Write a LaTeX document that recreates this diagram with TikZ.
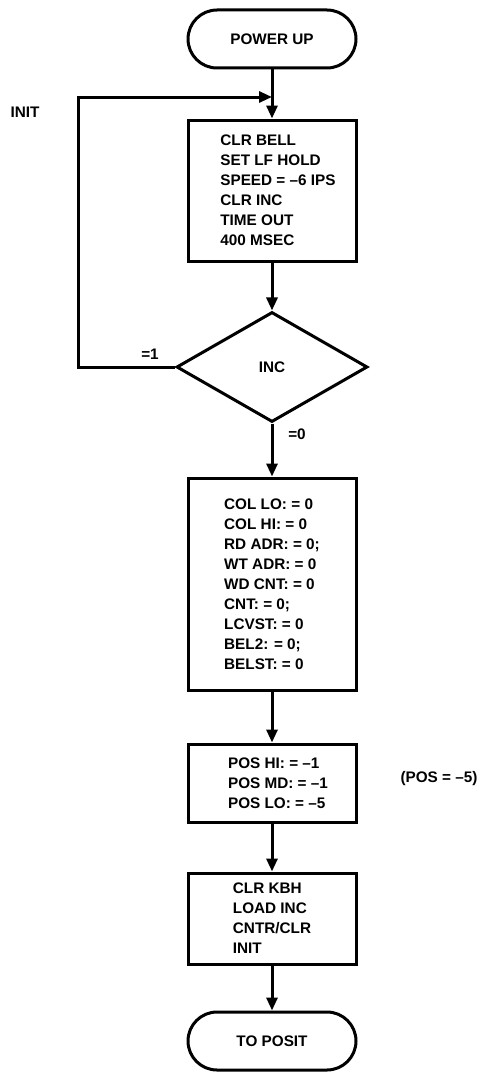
\documentclass[tikz,border=0pt]{standalone}
\usepackage{fontspec}
\setmainfont{Liberation Sans}
\usetikzlibrary{shapes.geometric,arrows.meta}
\newcommand{\ind}{\hspace*{12pt}}
\begin{document}
\begin{tikzpicture}[x=1pt,y=-1pt,
  font=\bfseries\fontsize{15.3}{20}\selectfont,
  line width=3pt,
  box/.style={draw, rectangle, minimum width=168pt, align=left, inner sep=0pt},
  term/.style={draw, rectangle, rounded corners=29pt, minimum width=168pt, minimum height=58pt, inner sep=0pt},
  dec/.style={draw, diamond, minimum width=191pt, minimum height=110pt, inner sep=0pt},
  arr/.style={-{Triangle[length=13pt,width=11pt]}},
  lbl/.style={inner sep=0pt}]
\useasboundingbox (0,0) rectangle (480,1073);
\node[term] (pu) at (272,39) {POWER UP};
\node[box, minimum height=141pt] (b1) at (272,190.5) {\ind CLR BELL\\\ind SET LF HOLD\\\ind SPEED = \textendash6 IPS\\\ind CLR INC\\\ind TIME OUT\\\ind 400 MSEC};
\node[dec] (inc) at (272,367) {INC};
\node[box, minimum height=212pt] (b2) at (272,584) {COL LO: = 0\\COL HI: = 0\\RD ADR: = 0;\\WT ADR: = 0\\WD CNT: = 0\\CNT: = 0;\\LCVST: = 0\\BEL2: = 0;\\BELST: = 0};
\node[box, minimum height=78pt] (b3) at (272,783) {\ind POS HI: = \textendash1\\\ind POS MD: = \textendash1\\\ind POS LO: = \textendash5};
\node[box, minimum height=91pt] (b4) at (272,918.5) {CLR KBH\\LOAD INC\\CNTR/CLR\\INIT};
\node[term] (tp) at (272,1041) {TO POSIT};
\coordinate (j) at (272,97);
\node[lbl] (linit) at (25,112) {INIT};
\node[lbl] (l1) at (150,354) {=1};
\node[lbl] (l0) at (297,434) {=0};
\node[lbl] (lpos) at (439,779) {(POS = \textendash5)};
\draw[arr] (pu) -- (b1);
\draw[arr] (b1) -- (inc);
\draw[arr] (inc) -- (b2);
\draw[arr] (b2) -- (b3);
\draw[arr] (b3) -- (b4);
\draw[arr] (b4) -- (tp);
\draw[arr] (inc.west) -- (78,367) |- (j);
\end{tikzpicture}
\end{document}
